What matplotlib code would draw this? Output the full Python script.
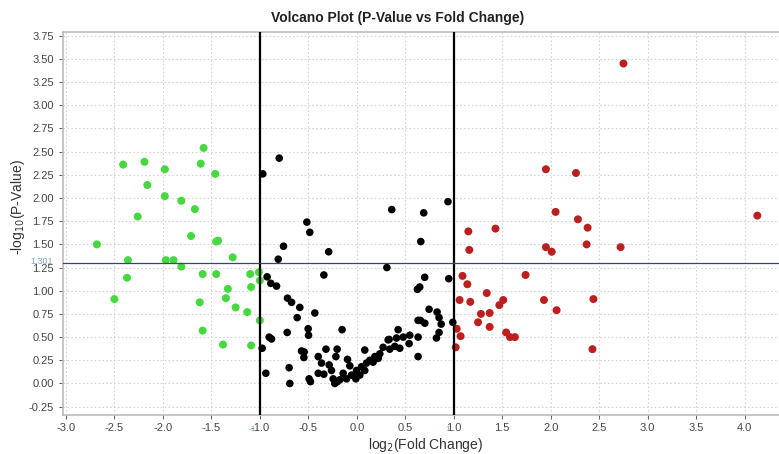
import numpy as np
import matplotlib
matplotlib.use('Agg')
import matplotlib.pyplot as plt

plt.rcParams['font.family'] = ['Liberation Sans', 'DejaVu Sans']

# ── Data (log2 FC, -log10 p) ─────────────────────────────────────────────────
down_x = [-1.58, -2.41, -2.19, -1.98, -1.61, -1.46, -2.16, -1.98, -1.81, -1.67,
          -2.26, -2.68, -1.71, -1.43, -1.45, -2.36, -1.97, -1.89, -1.28, -1.81,
          -2.37, -1.59, -1.45, -1.10, -1.01, -1.00, -1.09, -1.33, -2.50, -1.62,
          -1.35, -1.25, -1.13, -1.00, -1.59, -1.38, -1.09]
down_y = [2.54, 2.36, 2.39, 2.31, 2.37, 2.26, 2.14, 2.02, 1.97, 1.88,
          1.80, 1.50, 1.59, 1.54, 1.53, 1.33, 1.33, 1.33, 1.36, 1.26,
          1.14, 1.18, 1.18, 1.18, 1.20, 1.11, 1.04, 1.02, 0.91, 0.875,
          0.92, 0.82, 0.77, 0.68, 0.57, 0.42, 0.41]

ns_x = [-0.97, -0.80, 0.36, 0.69, 0.94, -0.515, -0.485, -0.756, -0.29, 0.66,
        -0.81, 0.31, -0.34, -0.925, -0.887, -0.828, -0.715, -0.673, -0.588, -0.433,
        -0.615, -0.718, -0.502, -0.498, -0.152, -0.904, -0.880, -0.976, -0.570, -0.543,
        -0.546, -0.398, -0.318, -0.203, -0.216, -0.364, -0.285, -0.096, -0.072, -0.938,
        -0.698, -0.691, -0.492, -0.478, -0.398, -0.340, -0.244, -0.175, -0.261, -0.141,
        -0.055, -0.010, -0.106, -0.227, -0.200, 0.082, 0.323, 0.340, 0.426, 0.700,
        0.948, 0.649, 0.625, 0.745, 0.828, 0.848, 0.632, 0.701, 0.870, 0.990,
        0.848, 0.821, 0.333, 0.409, 0.478, 0.546, 0.632, 0.392, 0.443, 0.539,
        0.271, 0.632, 0.237, 0.186, 0.134, 0.100, 0.048, -0.003, -0.021, 0.031,
        0.082, 0.168, 0.220, 0.656]
ns_y = [2.26, 2.43, 1.875, 1.84, 1.96, 1.74, 1.63, 1.48, 1.42, 1.53,
        1.34, 1.25, 1.17, 1.15, 1.08, 1.05, 0.92, 0.875, 0.82, 0.76,
        0.71, 0.55, 0.59, 0.52, 0.58, 0.50, 0.48, 0.38, 0.35, 0.34,
        0.28, 0.29, 0.37, 0.37, 0.29, 0.22, 0.20, 0.26, 0.19, 0.11,
        0.17, 0.00, 0.05, 0.02, 0.11, 0.10, 0.05, 0.04, 0.14, 0.11,
        0.09, 0.05, 0.05, 0.00, 0.02, 0.36, 0.47, 0.37, 0.58, 1.145,
        1.13, 1.04, 1.015, 0.80, 0.77, 0.71, 0.68, 0.65, 0.64, 0.66,
        0.55, 0.49, 0.475, 0.49, 0.50, 0.52, 0.50, 0.40, 0.38, 0.43,
        0.39, 0.29, 0.32, 0.29, 0.25, 0.22, 0.18, 0.14, 0.09, 0.09,
        0.14, 0.23, 0.27, 0.68]

up_x = [2.75, 1.95, 2.26, 2.05, 2.28, 2.38, 1.43, 1.15, 1.16, 1.95,
        2.01, 2.37, 2.72, 4.13, 1.09, 1.74, 1.14, 1.34, 1.06, 1.17,
        1.51, 1.47, 1.93, 2.44, 2.06, 1.28, 1.37, 1.25, 1.37, 1.03,
        1.07, 1.54, 1.58, 1.63, 1.02, 2.43]
up_y = [3.45, 2.31, 2.27, 1.85, 1.77, 1.68, 1.67, 1.64, 1.44, 1.47,
        1.42, 1.50, 1.47, 1.81, 1.16, 1.17, 1.07, 0.975, 0.90, 0.88,
        0.90, 0.845, 0.90, 0.91, 0.79, 0.75, 0.76, 0.66, 0.61, 0.59,
        0.51, 0.55, 0.50, 0.50, 0.39, 0.37]

fc_cut = 1.0
p_cut = 1.301

x_ticks = np.arange(-3.0, 4.01, 0.5)
y_ticks = np.arange(-0.25, 3.76, 0.25)

# ── Figure ───────────────────────────────────────────────────────────────────
W, H = 779, 454
fig = plt.figure(figsize=(W / 100, H / 100), dpi=100)
# axes run slightly past the right edge of the picture, as in the reference
ax = fig.add_axes([63 / W, 1 - 415 / H, (799 - 63) / W, (415 - 32) / H])

ax.scatter(ns_x, ns_y, s=30, color='black', edgecolors='none', zorder=3)
ax.scatter(down_x, down_y, s=33, color='#44d93c', edgecolors='none', zorder=3)
ax.scatter(up_x, up_y, s=33, color='#bd1f1f', edgecolors='none', zorder=3)

ax.axvline(-fc_cut, color='black', lw=1.6, zorder=4)
ax.axvline(fc_cut, color='black', lw=1.6, zorder=4)
ax.axhline(p_cut, color='#34457a', lw=0.9, zorder=4)

ax.set_xlim(-3.03, 4.56)
ax.set_ylim(-0.34, 3.79)
ax.set_xticks(x_ticks)
ax.set_yticks(y_ticks)
ax.set_xticklabels([f'{v:.1f}' for v in x_ticks])
ax.set_yticklabels([f'{v:.2f}' for v in y_ticks])
ax.tick_params(labelsize=8, colors='#444444', length=3, width=0.6)
ax.tick_params(axis='x', pad=3)

ax.grid(True, linestyle=(0, (1.5, 2)), color='#d4d4d4', linewidth=0.8)
ax.set_axisbelow(True)
for side in ['left', 'bottom', 'top']:
    ax.spines[side].set_color('#bcbcbc')
    ax.spines[side].set_linewidth(1.2)
ax.spines['right'].set_visible(False)

# threshold annotations in small blue text
blue = '#7fa6d6'
fig.text(30 / W, 1 - 261 / H, f'{p_cut}', ha='left', va='center',
         fontsize=6.5, color=blue)
ax.text(-fc_cut - 0.04, -0.03, '-1', transform=ax.get_xaxis_transform(),
        ha='right', va='top', fontsize=6, color=blue)
ax.text(fc_cut - 0.04, -0.03, '1', transform=ax.get_xaxis_transform(),
        ha='right', va='top', fontsize=6, color=blue)

fig.text(426 / W, 1 - 445 / H, 'log$_2$(Fold Change)', ha='center', va='center',
         fontsize=10, color='#333333')
fig.text(18 / W, 1 - 207 / H, '-log$_{10}$(P-Value)', ha='center', va='center',
         rotation=90, fontsize=10, color='#333333')
fig.text(398 / W, 1 - 18 / H, 'Volcano Plot (P-Value vs Fold Change)',
         ha='center', va='center', fontsize=10, fontweight='bold', color='#222222')

fig.savefig('out.png', dpi=100)
